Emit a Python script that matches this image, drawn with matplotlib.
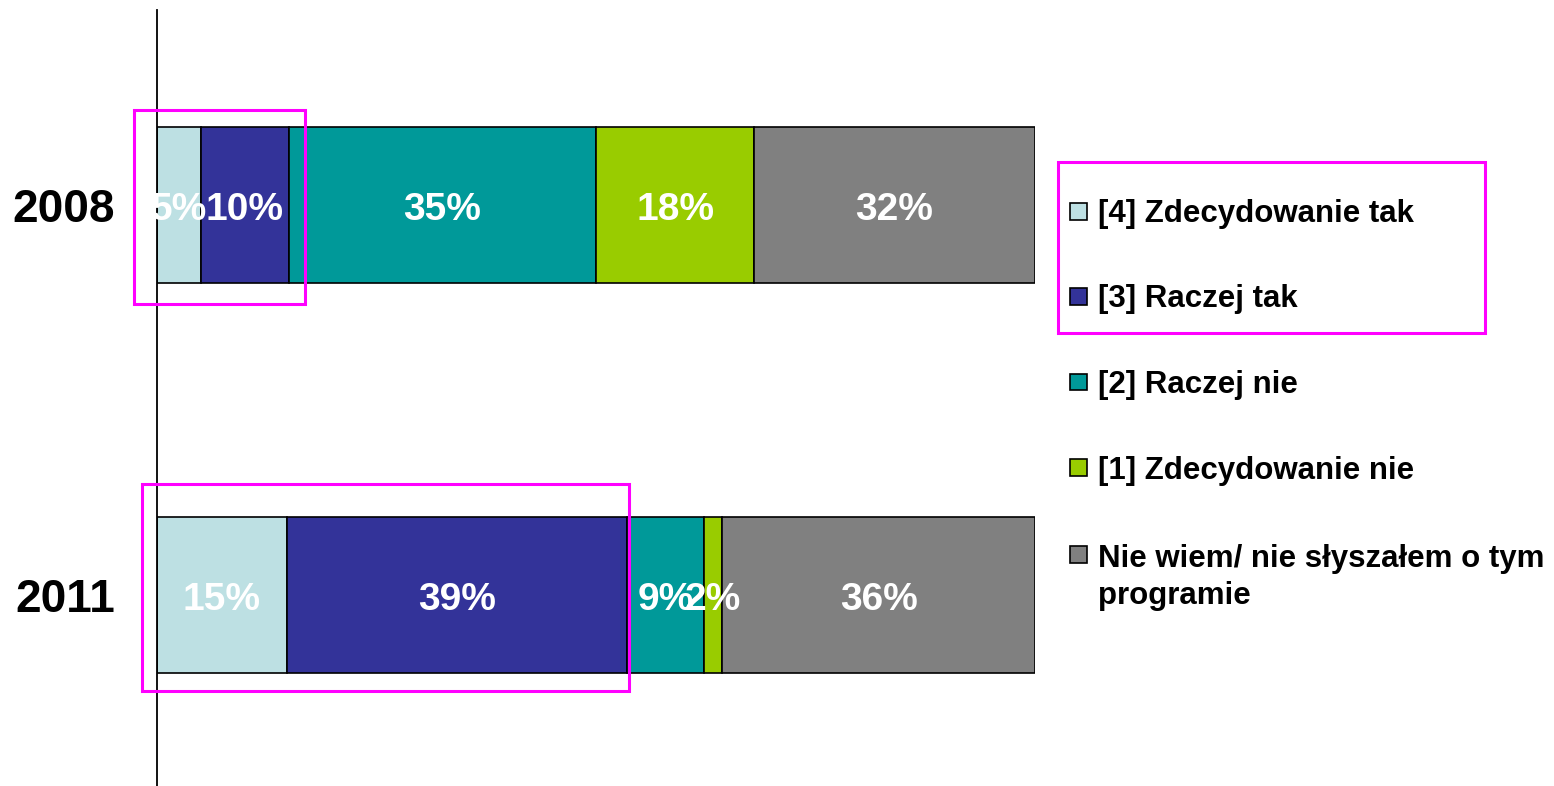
import matplotlib

matplotlib.use("Agg")
import matplotlib.pyplot as plt
from matplotlib.patches import Rectangle

plt.rcParams["font.family"] = ["Liberation Sans", "DejaVu Sans"]

W, H = 1554, 786

years = ["2008", "2011"]
categories = [
    "[4] Zdecydowanie tak",
    "[3] Raczej tak",
    "[2] Raczej nie",
    "[1] Zdecydowanie nie",
    "Nie wiem/ nie słyszałem o tym\nprogramie",
]
values_2008 = [5.0, 10.0, 35.0, 18.0, 32.0]
values_2011 = [14.8, 38.7, 8.8, 2.1, 35.6]
colors = ["#BDE0E3", "#333399", "#009999", "#99CC00", "#808080"]

MAGENTA = "#FF00FF"


def px_x(p):
    return p / W


def px_y(p):
    return 1 - p / H


fig = plt.figure(figsize=(W / 100, H / 100), dpi=100)
ax = fig.add_axes([px_x(157), 0, (1035 - 157) / W, (H - 10) / H])

rows = {1: values_2008, 0: values_2011}
bar_h = 0.4
for ypos, vals in rows.items():
    left = 0.0
    for v, c in zip(vals, colors):
        ax.barh(ypos, v, left=left, height=bar_h, color=c,
                edgecolor="black", linewidth=1.2)
        # baseline sits a little under the bar centre, as in the original
        ax.text(left + v / 2, ypos - 0.038, f"{round(v)}%", ha="center",
                va="baseline", color="white", fontsize=28, fontweight="bold")
        left += v

# highlight boxes round the two "tak" segments of each year
boxes = {1: (-2.6, 1.9, 0.054, 0.044), 0: (-1.7, 0.3, 0.046, 0.085)}
for ypos, (lpad, rpad, bpad, tpad) in boxes.items():
    top2 = sum(rows[ypos][:2])
    ax.add_patch(Rectangle((lpad, ypos - bar_h / 2 - bpad),
                           top2 + rpad - lpad, bar_h + bpad + tpad,
                           fill=False, edgecolor=MAGENTA, linewidth=2.2,
                           clip_on=False, zorder=5))

ax.set_xlim(0, 100)
ax.set_ylim(-0.49, 1.5)
ax.set_yticks([1, 0])
ax.set_yticklabels(years, fontsize=33, fontweight="bold")
ax.tick_params(axis="y", length=0, pad=30)
ax.set_xticks([])
for s in ["top", "right", "bottom"]:
    ax.spines[s].set_visible(False)
ax.spines["left"].set_linewidth(1.3)

# legend drawn by hand to match the layout
leg_centers = [211, 296.5, 382, 467.5, 554]
sq = 17
line_gap = 39
for lab, c, yc in zip(categories, colors, leg_centers):
    fig.patches.append(Rectangle((px_x(1070), px_y(yc + sq / 2)), sq / W, sq / H,
                                 facecolor=c, edgecolor="black", linewidth=1.2,
                                 transform=fig.transFigure))
    extra = lab.count("\n") * line_gap
    fig.text(px_x(1098), px_y(yc + 11 + extra), lab, ha="left", va="baseline",
             fontsize=22.5, fontweight="bold", linespacing=1.3)

fig.patches.append(Rectangle((px_x(1058), px_y(333)), 427 / W, 171 / H,
                             fill=False, edgecolor=MAGENTA, linewidth=2.2,
                             transform=fig.transFigure))

fig.savefig("out.png", dpi=100)
